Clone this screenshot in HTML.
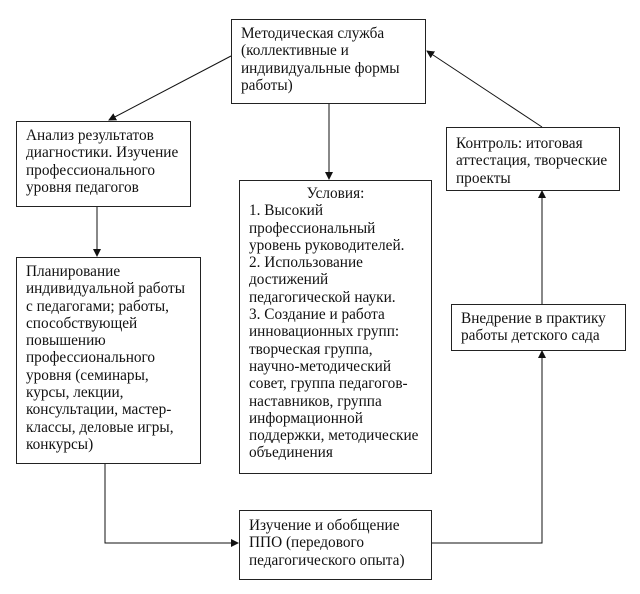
<!DOCTYPE html>
<html><head><meta charset="utf-8"><style>
body{margin:0;width:640px;height:594px;background:#fff;position:relative;overflow:hidden;font-family:"Liberation Serif",serif;font-size:15.3px;line-height:17.3px;color:#111}
.b{position:absolute;border:1px solid #222;box-sizing:border-box;padding:5px 9px;white-space:nowrap}
svg{position:absolute;left:0;top:0}
</style></head><body>
<svg width="640" height="594"><defs><marker id="a" markerWidth="8" markerHeight="8" refX="7" refY="4" orient="auto" markerUnits="userSpaceOnUse"><path d="M0,0 L8,4 L0,8z" fill="#111"/></marker></defs>
<g stroke="#111" stroke-width="1" fill="none">
<line x1="231" y1="56" x2="109" y2="120" marker-end="url(#a)"/>
<line x1="329" y1="103" x2="329" y2="179" marker-end="url(#a)"/>
<line x1="542" y1="127" x2="427" y2="51" marker-end="url(#a)"/>
<line x1="97" y1="206" x2="97" y2="256" marker-end="url(#a)"/>
<polyline points="105,463 105,543 238,543" marker-end="url(#a)"/>
<polyline points="431,543 542,543 542,351" marker-end="url(#a)"/>
<line x1="542" y1="304" x2="542" y2="191" marker-end="url(#a)"/>
</g></svg>
<div class="b" style="left:231px;top:19px;width:195px;height:85px">Методическая служба<br>(коллективные и<br>индивидуальные формы<br>работы)</div>
<div class="b" style="left:16px;top:121px;width:175px;height:86px">Анализ результатов<br>диагностики. Изучение<br>профессионального<br>уровня педагогов</div>
<div class="b" style="left:239px;top:180px;width:193px;height:294px;padding-top:4px"><div style="text-align:center">Условия:</div>1. Высокий<br>профессиональный<br>уровень руководителей.<br>2. Использование<br>достижений<br>педагогической науки.<br>3. Создание и работа<br>инновационных групп:<br>творческая группа,<br>научно-методический<br>совет, группа педагогов-<br>наставников, группа<br>информационной<br>поддержки, методические<br>объединения</div>
<div class="b" style="left:446px;top:127px;width:174px;height:64px;padding-top:7px">Контроль: итоговая<br>аттестация, творческие<br>проекты</div>
<div class="b" style="left:16px;top:257px;width:185px;height:207px">Планирование<br>индивидуальной работы<br>с педагогами; работы,<br>способствующей<br>повышению<br>профессионального<br>уровня (семинары,<br>курсы, лекции,<br>консультации, мастер-<br>классы, деловые игры,<br>конкурсы)</div>
<div class="b" style="left:451px;top:304px;width:175px;height:47px">Внедрение в практику<br>работы детского сада</div>
<div class="b" style="left:239px;top:510px;width:193px;height:70px;padding-top:6px">Изучение и обобщение<br>ППО (передового<br>педагогического опыта)</div>
</body></html>
